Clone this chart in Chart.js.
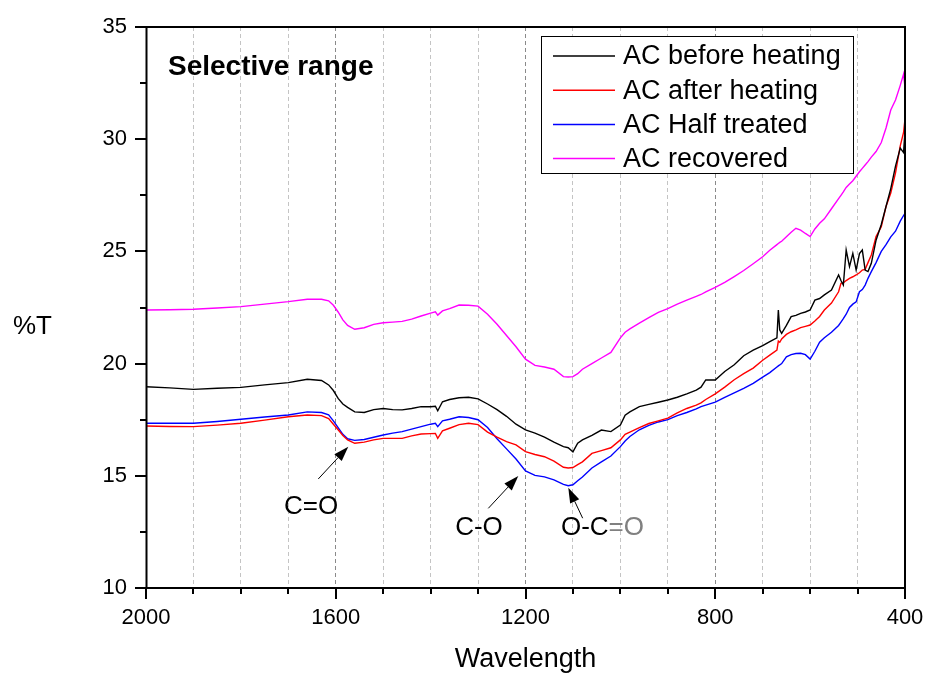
<!DOCTYPE html>
<html>
<head>
<meta charset="utf-8">
<script src="https://cdn.jsdelivr.net/npm/chart.js@4.4.1/dist/chart.umd.min.js"></script>
<style>
html,body{margin:0;padding:0;background:#fff;}
#wrap{width:926px;height:677px;position:relative;}
</style>
</head>
<body>
<div id="wrap"><canvas id="c" width="926" height="677"></canvas></div>
<script>
// ---------- data ----------
const wavelengths = [
  2000,1950,1900,1850,1800,1750,1700,1660,1630,1615,1605,1595,1585,1575,1560,1540,1520,1500,1480,1460,
  1440,1420,1400,1390,1385,1375,1360,1340,1320,1300,1280,1260,1240,1220,1200,1180,1160,1140,1120,1110,
  1100,1090,1080,1060,1040,1020,
  1000,990,980,960,940,920,900,880,860,840,830,820,800,780,760,740,720,700,685,670,
  667,664,660,650,640,630,620,610,600,590,580,570,555,540,535,530,524,517,510,503,
  496,490,484,478,471,461,450,440,430,420,410,403,400
];
const acBeforeHeating = [
  18.97,18.92,18.85,18.90,18.94,19.05,19.15,19.30,19.25,19.05,18.80,18.45,18.20,18.05,17.85,17.82,17.95,18.00,17.95,17.94,
  18.00,18.08,18.08,18.10,17.90,18.30,18.40,18.48,18.50,18.43,18.20,17.95,17.65,17.30,17.05,16.90,16.72,16.50,16.30,16.25,
  16.07,16.45,16.60,16.80,17.04,16.97,
  17.26,17.70,17.85,18.08,18.18,18.28,18.38,18.50,18.65,18.82,18.95,19.27,19.27,19.65,19.95,20.35,20.60,20.80,20.98,21.15,
  22.39,21.50,21.35,21.70,22.09,22.15,22.24,22.30,22.39,22.83,22.90,23.06,23.28,23.95,23.70,23.50,25.06,24.32,24.91,24.17,
  24.90,25.06,24.17,24.10,24.47,25.50,26.20,27.00,27.80,28.80,29.60,29.40,30.40
];
const acAfterHeating = [
  17.22,17.20,17.19,17.26,17.34,17.48,17.63,17.71,17.68,17.55,17.30,17.05,16.80,16.60,16.45,16.50,16.60,16.67,16.67,16.67,
  16.78,16.86,16.88,16.89,16.67,17.00,17.12,17.28,17.34,17.28,16.95,16.72,16.52,16.38,16.08,15.95,15.85,15.65,15.38,15.35,
  15.37,15.50,15.62,16.00,16.12,16.25,
  16.60,16.85,16.95,17.15,17.33,17.45,17.57,17.80,18.00,18.15,18.25,18.40,18.65,18.95,19.28,19.55,19.80,20.15,20.38,20.60,
  21.00,20.95,21.10,21.30,21.42,21.50,21.60,21.66,21.72,21.90,22.10,22.39,22.70,23.20,23.58,23.60,23.70,23.80,23.87,23.95,
  24.05,24.17,24.20,24.50,24.84,25.66,26.10,27.00,27.60,28.50,29.70,30.30,30.90
];
const acHalfTreated = [
  17.34,17.34,17.34,17.42,17.52,17.62,17.71,17.85,17.82,17.72,17.45,17.15,16.85,16.65,16.58,16.62,16.72,16.82,16.90,16.97,
  17.08,17.19,17.30,17.34,17.19,17.45,17.52,17.63,17.60,17.50,17.15,16.65,16.20,15.75,15.22,15.02,14.95,14.82,14.62,14.56,
  14.60,14.78,14.95,15.35,15.62,15.88,
  16.30,16.55,16.75,17.05,17.25,17.40,17.50,17.68,17.82,17.98,18.08,18.15,18.28,18.50,18.70,18.90,19.12,19.40,19.60,19.85,
  19.90,19.94,20.00,20.30,20.40,20.45,20.46,20.40,20.20,20.55,20.95,21.15,21.40,21.70,21.85,22.00,22.20,22.50,22.65,22.75,
  23.20,23.30,23.50,23.80,24.10,24.50,25.00,25.30,25.65,25.90,26.35,26.60,26.70
];
const acRecovered = [
  22.39,22.40,22.42,22.48,22.54,22.65,22.76,22.87,22.87,22.80,22.60,22.30,21.95,21.70,21.53,21.60,21.75,21.82,21.85,21.88,
  21.98,22.12,22.25,22.31,22.16,22.35,22.45,22.61,22.60,22.56,22.20,21.75,21.25,20.75,20.20,19.92,19.85,19.75,19.42,19.40,
  19.42,19.55,19.75,20.00,20.25,20.50,
  21.15,21.40,21.55,21.80,22.05,22.28,22.45,22.65,22.83,23.00,23.08,23.20,23.40,23.62,23.88,24.15,24.45,24.76,25.05,25.30,
  25.35,25.40,25.45,25.65,25.85,26.03,25.95,25.80,25.66,26.00,26.25,26.45,26.90,27.35,27.50,27.65,27.85,28.00,28.15,28.35,
  28.55,28.70,28.85,29.00,29.20,29.45,29.85,30.50,31.30,31.75,32.40,32.90,32.30
];
const seriesNames = ['AC before heating','AC after heating','AC Half treated','AC recovered'];
const xTickLabels = [2000,1600,1200,800,400];
const yTickLabels = [10,15,20,25,30,35];
const xMinorStep = 100;
const yMinorStep = 2.5;

// ---------- styles ----------
const FONT = "'Liberation Sans', Arial, sans-serif";
Chart.defaults.font.family = FONT;
Chart.defaults.color = '#000';
const seriesColors = ['#000000','#ff0000','#0000ff','#ff00ff'];

function toPoints(values){ return wavelengths.map((w,i)=>({x:w, y:values[i]})); }
const seriesValues = [acBeforeHeating, acAfterHeating, acHalfTreated, acRecovered];

// annotations in data coordinates
const annotations = [
  {parts:[['C=O','#000']], tx:1652, ty:13.61, from:[1636.8,14.86], to:[1573.6,16.30]},
  {parts:[['C-O','#000']], tx:1298, ty:12.67, from:[1278.4,13.55], to:[1215.2,14.99]},
  {parts:[['O-C','#000'],['=O','#808080']], tx:1037.7, ty:12.67, from:[1079.5,13.11], to:[1109.8,14.47]}
];

function noEdgePadding(s){
  s.paddingLeft = 0; s.paddingRight = 0; s.paddingTop = 0; s.paddingBottom = 0;
}

const decorPlugin = {
  id:'decor',
  afterDraw(chart){
    const {ctx, chartArea:a, scales:{x, y}} = chart;
    ctx.save();
    // frame
    ctx.strokeStyle = '#000';
    ctx.lineWidth = 2;
    ctx.strokeRect(a.left+0.5, a.top, a.right-a.left-0.5, a.bottom-a.top);
    // ticks
    ctx.lineWidth = 2;
    ctx.beginPath();
    for (let v = 400; v <= 2000; v += xMinorStep){
      const px = Math.round(x.getPixelForValue(v));
      const len = xTickLabels.includes(v) ? 11 : 6;
      ctx.moveTo(px, a.bottom); ctx.lineTo(px, a.bottom + len);
    }
    for (let v = 10; v <= 35; v += yMinorStep){
      const py = Math.round(y.getPixelForValue(v));
      const len = yTickLabels.includes(v) ? 11 : 6;
      ctx.moveTo(a.left, py); ctx.lineTo(a.left - len, py);
    }
    ctx.stroke();

    // titles / labels
    ctx.fillStyle = '#000';
    ctx.textBaseline = 'middle';
    ctx.textAlign = 'left';
    ctx.font = "bold 28px " + FONT;
    ctx.fillText('Selective range', a.left + 22, a.top + 40);
    ctx.font = "26px " + FONT;
    ctx.fillText('%T', 13, 327);

    // legend
    const L = {left: a.left + 395, top: a.top + 9, w: 312, h: 137};
    ctx.lineWidth = 1;
    ctx.strokeStyle = '#000';
    ctx.fillStyle = '#fff';
    ctx.fillRect(L.left, L.top, L.w, L.h);
    ctx.strokeRect(L.left + 0.5, L.top + 0.5, L.w, L.h);
    ctx.font = "27px " + FONT;
    chart.data.datasets.forEach((ds, i) => {
      const cy = L.top + 20 + i * 34.2;
      ctx.strokeStyle = ds.borderColor;
      ctx.lineWidth = 1.5;
      ctx.beginPath();
      ctx.moveTo(L.left + 12, cy); ctx.lineTo(L.left + 74, cy);
      ctx.stroke();
      ctx.fillStyle = '#000';
      ctx.fillText(ds.label, L.left + 82, cy + 1);
    });

    // annotations
    ctx.font = "26px " + FONT;
    annotations.forEach(an => {
      const cx = x.getPixelForValue(an.tx), cy = y.getPixelForValue(an.ty);
      const total = an.parts.reduce((s,p)=>s+ctx.measureText(p[0]).width, 0);
      let sx = cx - total/2;
      an.parts.forEach(p => { ctx.fillStyle = p[1]; ctx.fillText(p[0], sx, cy); sx += ctx.measureText(p[0]).width; });
      const x1 = x.getPixelForValue(an.from[0]), y1 = y.getPixelForValue(an.from[1]);
      const x2 = x.getPixelForValue(an.to[0]), y2 = y.getPixelForValue(an.to[1]);
      const ang = Math.atan2(y2 - y1, x2 - x1);
      const hl = 15, hw = 5;
      const bx = x2 - hl*Math.cos(ang), by = y2 - hl*Math.sin(ang);
      ctx.strokeStyle = '#000'; ctx.lineWidth = 1;
      ctx.beginPath(); ctx.moveTo(x1, y1); ctx.lineTo(bx, by); ctx.stroke();
      ctx.fillStyle = '#000';
      ctx.beginPath();
      ctx.moveTo(x2, y2);
      ctx.lineTo(bx + hw*Math.sin(ang), by - hw*Math.cos(ang));
      ctx.lineTo(bx - hw*Math.sin(ang), by + hw*Math.cos(ang));
      ctx.closePath(); ctx.fill();
    });
    ctx.restore();
  }
};

new Chart(document.getElementById('c'), {
  type: 'line',
  data: {
    datasets: seriesValues.map((vals, i) => ({
      label: seriesNames[i],
      data: toPoints(vals),
      borderColor: seriesColors[i],
      backgroundColor: seriesColors[i],
      borderWidth: 1.4,
      pointRadius: 0,
      tension: 0,
      fill: false
    }))
  },
  options: {
    responsive: false,
    animation: false,
    devicePixelRatio: 1,
    layout: {padding: {top: 27, right: 21, left: 0, bottom: 0}},
    plugins: {legend: {display: false}, tooltip: {enabled: false}},
    scales: {
      x: {
        type: 'linear', reverse: true, min: 400, max: 2000,
        afterFit(s){ s.height = 89; noEdgePadding(s); },
        ticks: {
          stepSize: xMinorStep, autoSkip: false, maxRotation: 0, padding: 17,
          color: '#000', font: {size: 22},
          callback: v => xTickLabels.includes(v) ? String(v) : ''
        },
        grid: {
          drawTicks: false, lineWidth: 1,
          color: c => (c.tick && xTickLabels.includes(c.tick.value)) ? '#8a8a8a' : '#c4c4c4'
        },
        border: {display: false, dash: [4, 3]},
        title: {display: true, text: 'Wavelength', color: '#000', font: {size: 27}, padding: {top: 0, bottom: 1}}
      },
      y: {
        min: 10, max: 35,
        afterFit(s){ s.width = 146; noEdgePadding(s); },
        ticks: {
          stepSize: 5, padding: 19, color: '#000', font: {size: 22},
          callback: v => yTickLabels.includes(v) ? String(v) : ''
        },
        grid: {display: false, drawTicks: false},
        border: {display: false}
      }
    }
  },
  plugins: [decorPlugin]
});
</script>
</body>
</html>
